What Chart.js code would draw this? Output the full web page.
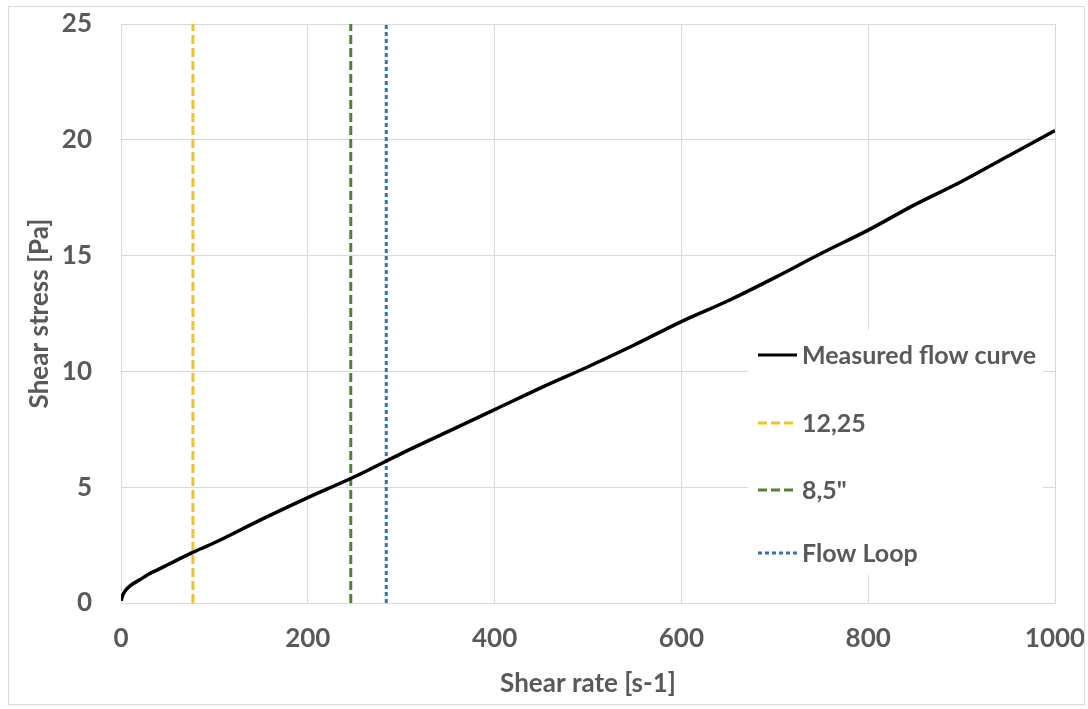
<!DOCTYPE html>
<html>
<head>
<meta charset="utf-8">
<script src="https://cdn.jsdelivr.net/npm/chart.js@4.4.1/dist/chart.umd.min.js"></script>
<style>
  html, body { margin: 0; padding: 0; background: #fff; }
  #wrap { width: 1088px; height: 709px; position: relative; }
</style>
</head>
<body>
<div id="wrap"><canvas id="flowChart" width="1088" height="709"></canvas></div>
<script>
// shear rate [s-1] and measured shear stress [Pa]
const shearRate = [0, 2, 5, 10, 20, 30, 40, 50, 75, 100, 150, 200, 250, 300, 350, 400, 450, 500, 550, 600, 650, 700, 750, 800, 850, 900, 950, 1000];
const shearStress = [0.1, 0.35, 0.55, 0.75, 1.0, 1.25, 1.45, 1.65, 2.15, 2.6, 3.6, 4.55, 5.45, 6.45, 7.4, 8.35, 9.3, 10.2, 11.15, 12.15, 13.05, 14.05, 15.1, 16.1, 17.2, 18.2, 19.3, 20.4];

// vertical reference lines (shear rate of each case)
const markerNames = ['12,25', '8,5"', 'Flow Loop'];
const markerRates = [77, 246, 284];
const markerColors = ['#f2c12e', '#548235', '#2e75b6'];
const markerDashes = [[9, 4], [9, 4], [4, 3]];

const xTicks = [0, 200, 400, 600, 800, 1000];
const yTicks = [0, 5, 10, 15, 20, 25];

const FONT = 'Lato, "Open Sans", sans-serif';
const GREY = '#595959';

const datasets = [{
  label: 'Measured flow curve',
  data: shearRate.map((x, i) => ({ x, y: shearStress[i] })),
  borderColor: '#000',
  borderWidth: 3.5,
  pointRadius: 0,
  cubicInterpolationMode: 'monotone'
}];
markerNames.forEach((name, i) => {
  datasets.push({
    label: name,
    data: [{ x: markerRates[i], y: yTicks[0] }, { x: markerRates[i], y: yTicks[yTicks.length - 1] }],
    borderColor: markerColors[i],
    borderWidth: 3,
    borderDash: markerDashes[i],
    pointRadius: 0
  });
});

// legend drawn inside the plot, on a white box
const insideLegend = {
  id: 'insideLegend',
  afterDatasetsDraw(chart) {
    const ctx = chart.ctx;
    ctx.save();
    ctx.fillStyle = '#fff';
    ctx.fillRect(748, 330, 295, 245);
    const rows = [355, 423, 490, 553];
    chart.data.datasets.forEach((ds, i) => {
      const y = rows[i];
      ctx.strokeStyle = ds.borderColor;
      ctx.lineWidth = 3;
      ctx.setLineDash(ds.borderDash || []);
      ctx.beginPath();
      ctx.moveTo(758, y);
      ctx.lineTo(797, y);
      ctx.stroke();
      ctx.setLineDash([]);
      ctx.fillStyle = GREY;
      ctx.font = 'bold 25px ' + FONT;
      ctx.textBaseline = 'middle';
      ctx.textAlign = 'left';
      ctx.fillText(ds.label, 802, y + 1);
    });
    ctx.restore();
  },
  afterDraw(chart) {
    const ctx = chart.ctx;
    ctx.save();
    ctx.strokeStyle = '#d9d9d9';
    ctx.lineWidth = 1;
    ctx.strokeRect(8.5, 6.5, 1076, 698);
    ctx.restore();
  }
};

new Chart(document.getElementById('flowChart'), {
  type: 'line',
  data: { datasets },
  plugins: [insideLegend],
  options: {
    responsive: false,
    animation: false,
    layout: { padding: { left: 10, right: 33, top: 24, bottom: 6 } },
    plugins: { legend: { display: false }, tooltip: { enabled: false } },
    scales: {
      x: {
        type: 'linear',
        min: xTicks[0],
        max: xTicks[xTicks.length - 1],
        afterBuildTicks: (s) => { s.ticks = xTicks.map((v) => ({ value: v })); },
        afterFit: (s) => { s.height = 100; s.paddingLeft = 0; s.paddingRight = 0; },
        grid: { color: '#d9d9d9', lineWidth: 1, drawTicks: false },
        border: { color: '#d9d9d9' },
        ticks: { color: GREY, padding: 20, callback: (v) => String(v), font: { family: FONT, size: 26, weight: 'bold' } },
        title: { display: true, text: 'Shear rate [s-1]', color: GREY, padding: { top: 10 }, font: { family: FONT, size: 26, weight: 'bold' } }
      },
      y: {
        type: 'linear',
        min: yTicks[0],
        max: yTicks[yTicks.length - 1],
        afterBuildTicks: (s) => { s.ticks = yTicks.map((v) => ({ value: v })); },
        afterFit: (s) => { s.width = 111; s.paddingTop = 0; s.paddingBottom = 0; },
        grid: { color: '#d9d9d9', lineWidth: 1, drawTicks: false },
        border: { color: '#d9d9d9' },
        ticks: { color: GREY, padding: 29, font: { family: FONT, size: 26, weight: 'bold' } },
        title: { display: true, text: 'Shear stress [Pa]', color: GREY, padding: { top: 14, bottom: 0 }, font: { family: FONT, size: 26, weight: 'bold' } }
      }
    }
  }
});
</script>
</body>
</html>
